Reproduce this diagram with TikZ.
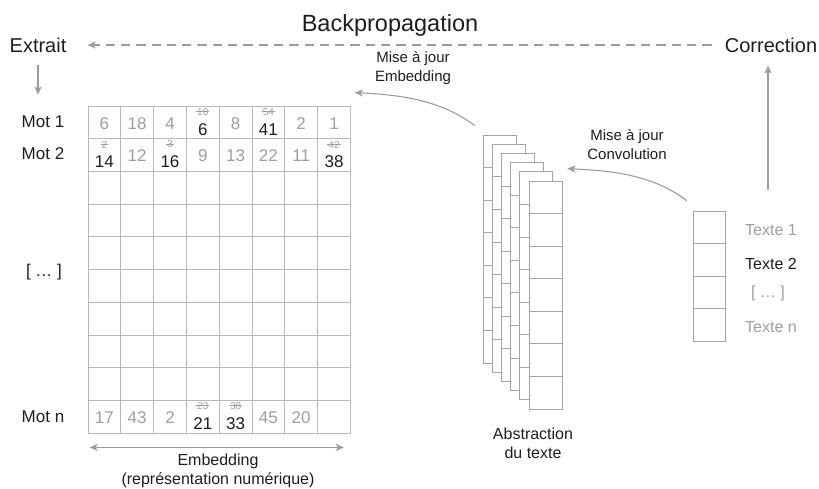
\documentclass[tikz,border=0pt]{standalone}
\usepackage{fontspec}
\setmainfont{Liberation Sans}
\usetikzlibrary{arrows.meta,calc}
\definecolor{gline}{HTML}{B8B8B8}
\definecolor{sline}{HTML}{A4A4A4}
\definecolor{garrow}{HTML}{9C9C9C}
\definecolor{gtext}{HTML}{9E9E9E}
\definecolor{dtext}{HTML}{1E1E1E}
\newcommand\strk[1]{\setbox0\hbox{#1}\rlap{\hskip-1pt\vrule height .42em depth -.33em width \dimexpr\wd0+2pt\relax}\box0}
\begin{document}
\begin{tikzpicture}[x=1pt,y=-1pt,
  cell/.style={draw=gline,line width=0.8pt,minimum width=32.8pt,minimum height=32.7pt,inner sep=0pt},
  scell/.style={draw=sline,fill=white,line width=0.8pt,minimum width=33pt,minimum height=32.57pt,inner sep=0pt},
  tcell/.style={draw=sline,line width=0.8pt,minimum width=32pt,minimum height=32.5pt,inner sep=0pt},
  lbl/.style={text=dtext,font=\fontsize{16}{19}\selectfont,inner sep=0pt},
  motlbl/.style={text=dtext,font=\fontsize{17}{20}\selectfont,inner sep=0pt},
  toplbl/.style={text=dtext,font=\fontsize{20}{24}\selectfont,inner sep=0pt},
  gtxt/.style={text=gtext,font=\fontsize{16}{19}\selectfont,inner sep=0pt},
  gnum/.style={text=gtext,font=\fontsize{17}{20}\selectfont,inner sep=0pt},
  bnum/.style={text=dtext,font=\fontsize{17}{20}\selectfont,inner sep=0pt},
  snum/.style={text=gtext,font=\fontsize{10}{11}\selectfont,inner sep=0pt},
  arr/.style={draw=garrow,line width=1.1pt,-{Stealth[length=8pt,width=7pt,inset=2pt]}},
]
\useasboundingbox (0,0) rectangle (819,488);
% top labels
\node[text=dtext,font=\fontsize{23.5}{28}\selectfont,inner sep=0pt] (bp) at (390,25) {Backpropagation};
\node[toplbl] (ex) at (38,45) {Extrait};
\node[toplbl] (cor) at (771,45) {Correction};
% grid
\foreach \r in {1,...,10}
  \foreach \c in {1,...,8}
    \node[cell] (g\r-\c) at ({88+32.8*(\c-0.5)},{106+32.7*(\r-0.5)}) {};
% grey numbers
\foreach \r/\c/\v in {1/1/6,1/2/18,1/3/4,1/5/8,1/7/2,1/8/1,
                      2/2/12,2/4/9,2/5/13,2/6/22,2/7/11,
                      10/1/17,10/2/43,10/3/2,10/6/45,10/7/20}
  \node[gnum] at ($(g\r-\c)+(0,1)$) {\v};
% updated numbers
\foreach \r/\c/\v/\o in {1/4/6/10,1/6/41/54,2/1/14/2,2/3/16/3,2/8/38/42,10/4/21/23,10/5/33/38}
  {\node[bnum] at ($(g\r-\c)+(0,7)$) {\v};
   \node[snum] at ($(g\r-\c)+(0,-10.5)$) {\strk{\o}};}
% row labels
\node[motlbl] (m1) at (43,122) {Mot 1};
\node[motlbl] (m2) at (43,154) {Mot 2};
\node[motlbl] (mdots) at (44,272) {[ … ]};
\node[motlbl] (mn) at (43,417) {Mot n};
% stack of convolution layers
\foreach \k in {0,...,5}
  \foreach \i in {1,...,7}
    \node[scell] (s\k-\i) at ({499.5+9.2*\k},{135+9.2*\k+32.57*(\i-0.5)}) {};
\node[lbl,align=center] (abs) at (533,443) {Abstraction\\du texte};
% text column
\foreach \i in {1,...,4}
  \node[tcell] (t\i) at (709,{211+32.5*(\i-0.5)}) {};
\node[gtxt] (tx1) at (771,230) {Texte 1};
\node[lbl] (tx2) at (771,264) {Texte 2};
\node[gtxt] (txd) at (768,293) {[ … ]};
\node[gtxt] (txn) at (771,327) {Texte n};
% curved-arrow labels
\node[lbl,align=center,font=\fontsize{15}{19}\selectfont] (me) at (413,68) {Mise à jour\\Embedding};
\node[lbl,align=center,font=\fontsize{15}{19}\selectfont] (mc) at (627,145) {Mise à jour\\Convolution};
% arrows
\draw[arr,dash pattern=on 9.3pt off 6pt] ([xshift=-13pt]cor.west) -- ([xshift=21pt]ex.east);
\draw[arr,shorten <=12pt,shorten >=11pt] (ex.south) -- (ex.south |- g1-1.north);
\draw[arr,shorten <=21pt,shorten >=13pt] ([xshift=-3pt]cor.south |- t1.north) -- ([xshift=-3pt]cor.south);
\coordinate (e1) at ($(s0-1.north west)+(-8,-9)$);
\coordinate (e2) at ($(g1-8.north east)+(4,-13)$);
\draw[arr] (e1) .. controls ($(e1)+(-35,-27)$) and ($(e2)+(40,2)$) .. (e2);
\coordinate (c1) at ($(t1.north west)+(-6,-10)$);
\coordinate (c2) at ($(s5-1.north east)+(5,-12)$);
\draw[arr] (c1) .. controls ($(c1)+(-35,-27)$) and ($(c2)+(40,2)$) .. (c2);
\draw[arr,{Stealth[length=8pt,width=7pt,inset=2pt]}-{Stealth[length=8pt,width=7pt,inset=2pt]}]
  ($(g10-1.south west)+(2,14)$) -- ($(g10-8.south east)+(-7,14)$);
\node[lbl,align=center] (embt) at (218,471) {Embedding\\(représentation numérique)};
\end{tikzpicture}
\end{document}
